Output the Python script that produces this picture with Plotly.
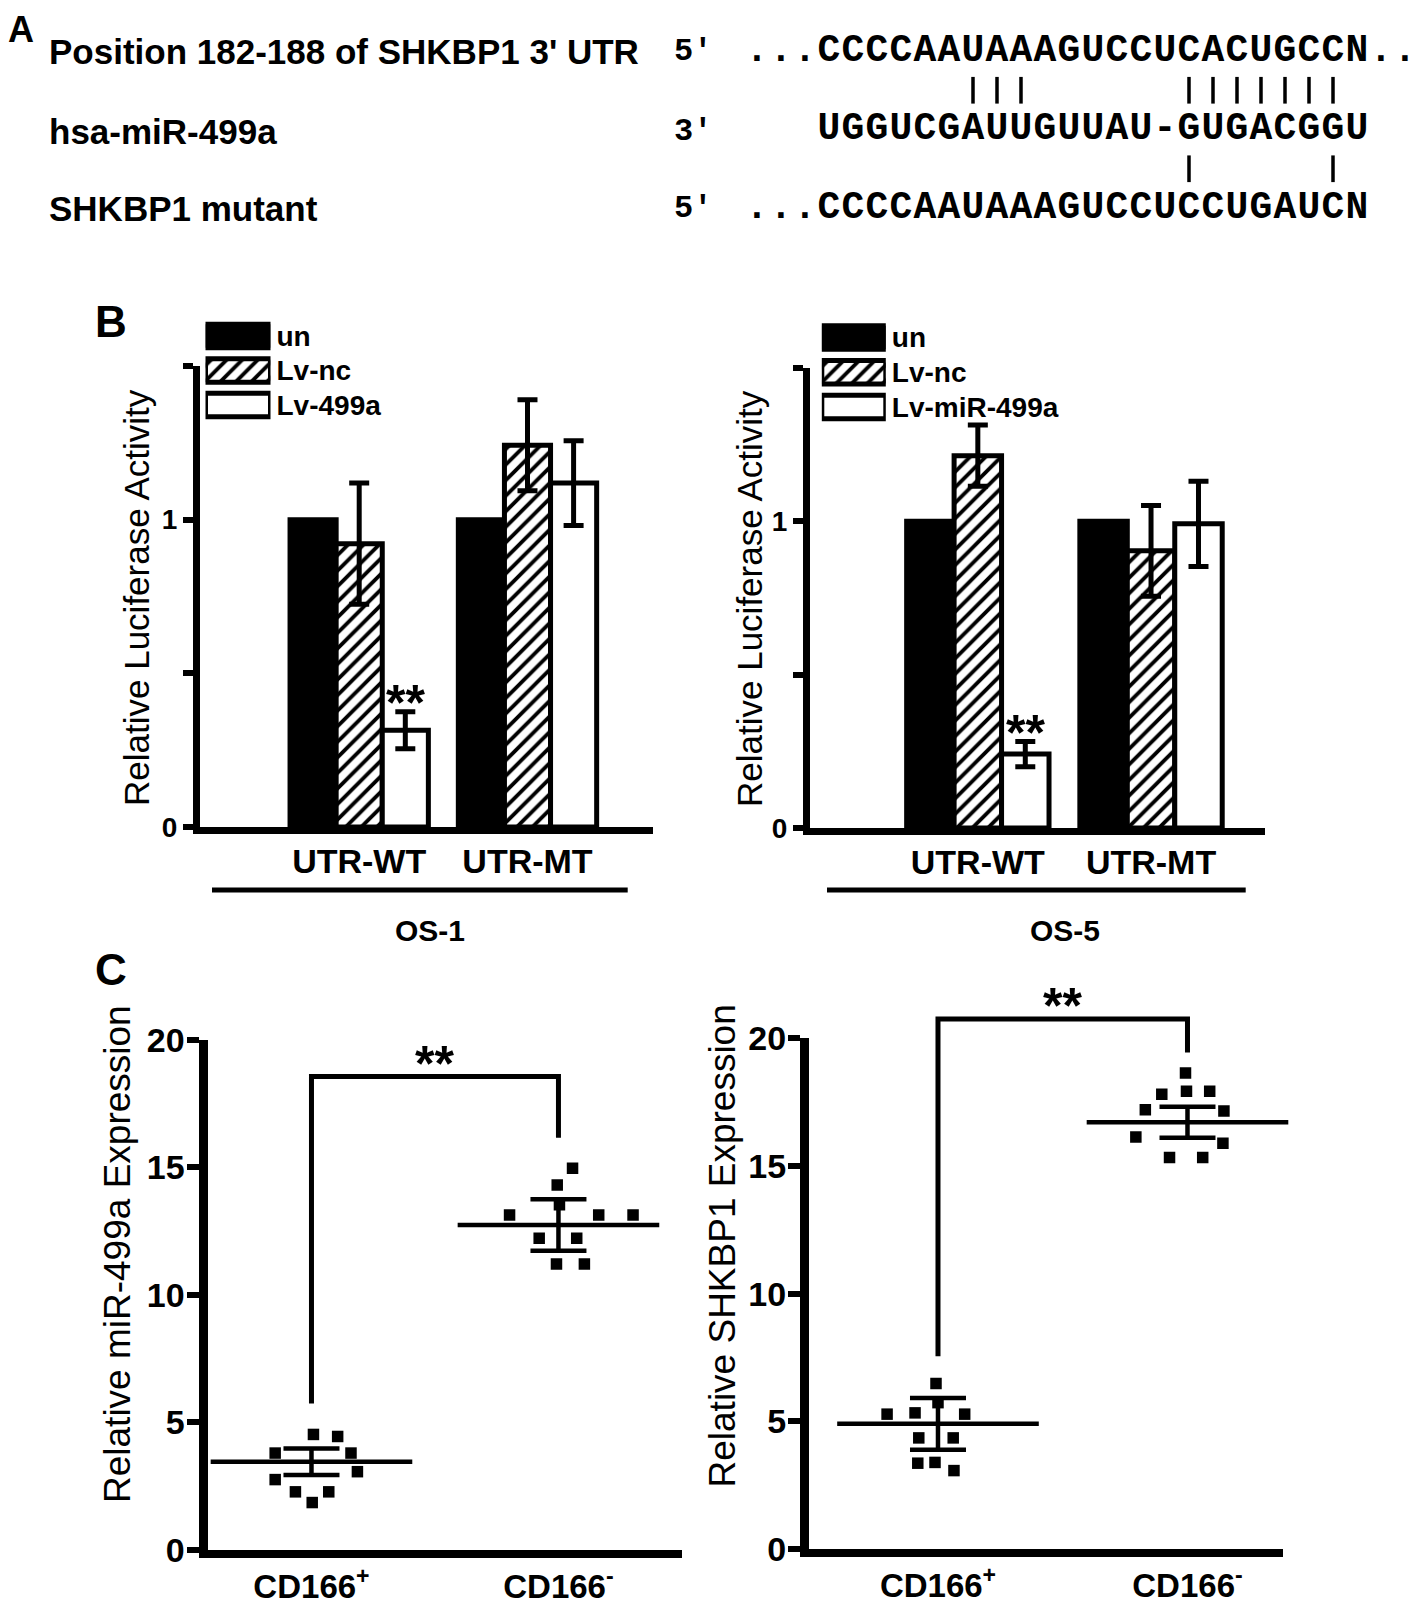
import plotly.graph_objects as go

W, H = 1418, 1605
OFF = 8  # page body margin (screen px) that the figure is offset by

# ---------------- Panel A data ----------------
seq_labels = ["Position 182-188 of SHKBP1 3' UTR", "hsa-miR-499a", "SHKBP1 mutant"]
seq_ends = ["5'", "3'", "5'"]
seq_wt = "...CCCCAAUAAAGUCCUCACUGCCN.."
seq_mir = "UGGUCGAUUGUUAU-GUGACGGU"
seq_mut = "...CCCCAAUAAAGUCCUCCUGAUCN"
seq_start = [-3, 0, -3]                 # alignment offset of first character
pairs_wt_mir = [6, 7, 8, 15, 16, 17, 18, 19, 20, 21]
pairs_mir_mut = [15, 21]

# ---------------- Panel B data ----------------
b_groups = ["UTR-WT", "UTR-MT"]
b_names_os1 = ["un", "Lv-nc", "Lv-499a"]
b_names_os5 = ["un", "Lv-nc", "Lv-miR-499a"]
os1_un = [1.0, 1.0]
os1_nc = [0.922, 1.242]
os1_nc_err = [0.197, 0.148]
os1_mir = [0.315, 1.119]
os1_mir_err = [0.060, 0.138]
os5_un = [1.0, 1.0]
os5_nc = [1.214, 0.904]
os5_nc_err = [0.100, 0.148]
os5_mir = [0.241, 0.992]
os5_mir_err = [0.041, 0.139]
b_cells = ["OS-1", "OS-5"]
b_major_ticks = [0, 1]
b_minor_ticks = [0.5, 1.5]

# ---------------- Panel C data ----------------
c_groups = ["CD166<sup>+</sup>", "CD166<sup>-</sup>"]
mir_pos = [4.53, 4.45, 3.80, 3.80, 3.07, 2.76, 2.28, 2.28, 1.86]
mir_pos_jit = [0.008, 0.106, -0.147, 0.160, 0.186, -0.147, -0.065, 0.070, 0.003]
mir_neg = [14.96, 14.31, 13.53, 13.13, 13.13, 13.13, 12.22, 12.22, 11.21, 11.21]
mir_neg_jit = [0.057, -0.005, 0.004, -0.198, 0.163, 0.302, -0.078, 0.074, -0.008, 0.105]
mir_mean = [3.46, 12.74]
mir_sem = [0.52, 1.01]
mir_bracket = [5.74, 18.56, 16.16]
shk_pos = [6.48, 5.73, 5.28, 5.33, 5.28, 4.35, 4.35, 3.36, 3.39, 3.07]
shk_pos_jit = [-0.008, 0.0, -0.204, -0.092, 0.107, -0.077, 0.061, -0.081, -0.012, 0.064]
shk_neg = [18.64, 17.81, 17.92, 17.92, 17.20, 17.15, 16.13, 15.89, 15.33, 15.33]
shk_neg_jit = [-0.008, -0.103, -0.004, 0.089, -0.169, 0.146, -0.207, 0.142, -0.072, 0.061]
shk_mean = [4.90, 16.71]
shk_sem = [1.01, 0.61]
shk_bracket = [7.55, 20.75, 19.44]
c_ytickvals = [0, 5, 10, 15, 20]
c_titles = ["Relative miR-499a Expression", "Relative SHKBP1 Expression"]

# ---------------- helpers ----------------
FONT = "Liberation Sans, Arial, sans-serif"
MONO = "Liberation Mono, Courier New, monospace"


def px(x):
    return (x - OFF) / W


def py(y):
    return 1 - (y - OFF) / H


fig = go.Figure()

# ================= Panel A =================
for s, st, ry in zip([seq_wt, seq_mir, seq_mut], seq_start, [0, 2, 4]):
    fig.add_trace(go.Scatter(
        x=[st + k for k in range(len(s))], y=[ry] * len(s), text=list(s),
        mode="text", textposition="middle center",
        textfont=dict(family=MONO, size=38, color="black", weight="bold"),
        xaxis="x", yaxis="y", hoverinfo="skip", showlegend=False, cliponaxis=False))

for idx, r in [(pairs_wt_mir, 1), (pairs_mir_mut, 3)]:
    xs, ys = [], []
    for i in idx:
        xs += [i, i, None]
        ys += [r - 0.34, r + 0.34, None]
    fig.add_trace(go.Scatter(x=xs, y=ys, mode="lines", line=dict(color="black", width=3.5),
                             xaxis="x", yaxis="y", hoverinfo="skip", showlegend=False))

# ================= Panel B =================
solid = dict(color="black", line=dict(color="black", width=5))
hatch = dict(color="white", line=dict(color="black", width=5),
             pattern=dict(shape="/", fgcolor="black", bgcolor="white", size=11, solidity=0.35))
empty = dict(color="white", line=dict(color="black", width=5))
styles = [solid, hatch, empty]


def add_bars(xa, ya, un, nc, nc_err, mir, mir_err):
    common = dict(x=b_groups, xaxis=xa, yaxis=ya, showlegend=False, hoverinfo="skip")
    fig.add_trace(go.Bar(y=un, offsetgroup="a", marker=solid, **common))
    fig.add_trace(go.Bar(y=nc, offsetgroup="b", marker=hatch,
                         error_y=dict(type="data", array=nc_err, color="black", thickness=5, width=10),
                         **common))
    fig.add_trace(go.Bar(y=mir, offsetgroup="c", marker=empty,
                         error_y=dict(type="data", array=mir_err, color="black", thickness=5, width=10),
                         **common))


add_bars("x2", "y2", os1_un, os1_nc, os1_nc_err, os1_mir, os1_mir_err)
add_bars("x3", "y3", os5_un, os5_nc, os5_nc_err, os5_mir, os5_mir_err)


def add_legend(xa, ya, names):
    for n, st in zip(names, styles):
        fig.add_trace(go.Bar(x=[1], y=[n], orientation="h", width=0.68, offsetgroup="leg",
                             marker=st, xaxis=xa, yaxis=ya, showlegend=False, hoverinfo="skip"))


add_legend("x4", "y4", b_names_os1)
add_legend("x5", "y5", b_names_os5)

# ================= Panel C =================


def add_scatter(xa, ya, xb, yb, pos, pos_j, neg, neg_j, mean, sem, br):
    mk = dict(symbol="square", size=11.5, color="black")
    fig.add_trace(go.Scatter(x=[0 + j for j in pos_j], y=pos, mode="markers", marker=mk,
                             xaxis=xa, yaxis=ya, showlegend=False, hoverinfo="skip"))
    fig.add_trace(go.Scatter(x=[1 + j for j in neg_j], y=neg, mode="markers", marker=mk,
                             xaxis=xa, yaxis=ya, showlegend=False, hoverinfo="skip"))
    fig.add_trace(go.Scatter(x=[0, 1], y=mean, mode="markers",
                             marker=dict(symbol="line-ew", size=144, color="black",
                                         line=dict(width=4.5, color="black")),
                             error_y=dict(type="data", array=sem, color="black", thickness=4.5, width=28),
                             xaxis=xa, yaxis=ya, showlegend=False, hoverinfo="skip", cliponaxis=False))
    # significance bracket on a taller overlay scale (same units as the data axis)
    fig.add_trace(go.Scatter(x=[0, 0, 1, 1], y=[br[0], br[1], br[1], br[2]], mode="lines",
                             line=dict(color="black", width=5),
                             xaxis=xb, yaxis=yb, showlegend=False, hoverinfo="skip"))


add_scatter("x6", "y6", "x8", "y8", mir_pos, mir_pos_jit, mir_neg, mir_neg_jit, mir_mean, mir_sem, mir_bracket)
add_scatter("x7", "y7", "x9", "y9", shk_pos, shk_pos_jit, shk_neg, shk_neg_jit, shk_mean, shk_sem, shk_bracket)

# ================= Axes =================
hidden = dict(visible=False, showgrid=False, zeroline=False, automargin=False)

# Panel A helper axes: character index -> screen pixel
CH = 24.0   # px per character
C0 = 829.0  # px centre of first aligned nucleotide
r0 = (700 - C0) / CH
r1 = (W + OFF - C0) / CH
ROW0, ROWH = 51.0, 39.25
yr_top = (18 - ROW0) / ROWH
yr_bot = (240 - ROW0) / ROWH

b_x = dict(type="category", showgrid=False, zeroline=False, showline=True, linewidth=7, linecolor="black",
           ticks="", tickfont=dict(family=FONT, size=34, color="black", weight="bold"),
           ticklabelstandoff=-2, automargin=False)
b_y = dict(range=[0, 1.5], tickvals=b_major_ticks, showgrid=False, zeroline=False,
           showline=True, linewidth=7, linecolor="black", ticks="outside", ticklen=10, tickwidth=6,
           tickcolor="black", tickfont=dict(family=FONT, size=28, color="black", weight="bold"),
           minor=dict(tickvals=b_minor_ticks, ticks="outside", ticklen=10, tickwidth=6, tickcolor="black",
                      showgrid=False),
           ticklabelstandoff=0, automargin=False)
leg_x = dict(range=[0, 1], visible=False, showgrid=False, zeroline=False, automargin=False)
leg_y = dict(type="category", showgrid=False, zeroline=False, showline=False, ticks="", side="right",
             tickfont=dict(family=FONT, size=28, color="black", weight="bold"), ticklabelstandoff=5,
             automargin=False)
c_x = dict(tickvals=[0, 1], ticktext=c_groups, showgrid=False, zeroline=False, showline=True,
           linewidth=8, linecolor="black", ticks="",
           tickfont=dict(family=FONT, size=33, color="black", weight="bold"), ticklabelstandoff=0,
           automargin=False)
c_y = dict(range=[0, 20], tickvals=c_ytickvals, showgrid=False, zeroline=False, showline=True,
           linewidth=9, linecolor="black", ticks="outside", ticklen=12, tickwidth=6, tickcolor="black",
           tickfont=dict(family=FONT, size=34, color="black", weight="bold"), ticklabelstandoff=-5,
           automargin=False)

# C scales: (zero px, twenty px, left px, right px, range)
cL = dict(z=1550.0, t=1039.8, x0=207.5, x1=681.7, rng=[-0.421, 1.499])
cR = dict(z=1549.0, t=1038.2, x0=809.0, x1=1283.3, rng=[-0.517, 1.384])
TOPC = 960.0


def over_top(c):
    unit = (c["z"] - c["t"]) / 20.0
    return (c["z"] - TOPC) / unit


fig.update_layout(
    template="none",
    width=W, height=H, margin=dict(l=0, r=0, t=0, b=0, pad=0, autoexpand=False),
    paper_bgcolor="white", plot_bgcolor="rgba(0,0,0,0)",
    font=dict(family=FONT, color="black"),
    barmode="group", bargap=0.178, bargroupgap=0,
    showlegend=False,
    xaxis=dict(hidden, domain=[px(700), 1], range=[r0, r1], anchor="y"),
    yaxis=dict(hidden, domain=[py(240), py(18)], range=[yr_bot, yr_top], anchor="x"),
    xaxis2=dict(b_x, domain=[px(200), px(652.7)], range=[-0.946, 1.744], anchor="y2"),
    yaxis2=dict(b_y, domain=[py(827), py(366)], anchor="x2"),
    xaxis3=dict(b_x, domain=[px(810), px(1265)], range=[-0.969, 1.658], anchor="y3"),
    yaxis3=dict(b_y, domain=[py(828), py(368)], anchor="x3"),
    xaxis4=dict(leg_x, domain=[px(205.5), px(270.5)], anchor="y4"),
    yaxis4=dict(leg_y, domain=[py(422.25), py(318.75)], range=[2.5, -0.5],
                categoryorder="array", categoryarray=b_names_os1, anchor="x4"),
    xaxis5=dict(leg_x, domain=[px(821.8), px(885.8)], anchor="y5"),
    yaxis5=dict(leg_y, domain=[py(424.4), py(320.1)], range=[2.5, -0.5],
                categoryorder="array", categoryarray=b_names_os5, anchor="x5"),
    xaxis6=dict(c_x, domain=[px(cL["x0"]), px(cL["x1"])], range=cL["rng"], anchor="y6"),
    yaxis6=dict(c_y, domain=[py(cL["z"]), py(cL["t"])], anchor="x6"),
    xaxis7=dict(c_x, domain=[px(cR["x0"]), px(cR["x1"])], range=cR["rng"], anchor="y7"),
    yaxis7=dict(c_y, domain=[py(cR["z"]), py(cR["t"])], anchor="x7"),
    xaxis8=dict(hidden, domain=[px(cL["x0"]), px(cL["x1"])], range=cL["rng"], anchor="y8"),
    yaxis8=dict(hidden, domain=[py(cL["z"]), py(TOPC)], range=[0, over_top(cL)], anchor="x8"),
    xaxis9=dict(hidden, domain=[px(cR["x0"]), px(cR["x1"])], range=cR["rng"], anchor="y9"),
    yaxis9=dict(hidden, domain=[py(cR["z"]), py(TOPC)], range=[0, over_top(cR)], anchor="x9"),
)

# ================= Annotations =================
ann = []


def text(x, y, s, size, bold=False, family=FONT, xanchor="center", angle=0):
    ann.append(dict(x=px(x), y=py(y), xref="paper", yref="paper", text=s, showarrow=False,
                    xanchor=xanchor, yanchor="middle", textangle=angle,
                    font=dict(family=family, size=size, color="black",
                              weight="bold" if bold else "normal")))


# panel letters
text(21, 30, "A", 36, bold=True)
text(111, 322, "B", 44, bold=True)
text(111, 969, "C", 44, bold=True)

# panel A row labels
for lab, end, yy in zip(seq_labels, seq_ends, [51, 131, 208]):
    text(47, yy, lab, 35, bold=True, xanchor="left")
    text(672, yy, end, 32, bold=True, family=MONO, xanchor="left")

# panel B titles and cell-line labels
text(136, 598, "Relative Luciferase Activity", 35, angle=-90)
text(749, 599, "Relative Luciferase Activity", 35, angle=-90)
text(430, 930, b_cells[0], 30, bold=True)
text(1065, 930, b_cells[1], 30, bold=True)

# panel C titles
text(117, 1254, c_titles[0], 37, angle=-90)
text(721.5, 1246, c_titles[1], 37, angle=-90)

# significance stars panel B (above Lv-miR bar of UTR-WT)
for xa, ya, v, e in [("x2", "y2", os1_mir[0], os1_mir_err[0]), ("x3", "y3", os5_mir[0], os5_mir_err[0])]:
    ann.append(dict(x=0.274, y=v + e, xref=xa, yref=ya, text="**", showarrow=False,
                    yanchor="middle", yshift=9,
                    font=dict(family=FONT, size=50, color="black", weight="bold")))

# significance stars panel C
for xa, ya, br in [("x8", "y8", mir_bracket), ("x9", "y9", shk_bracket)]:
    ann.append(dict(x=0.5, y=br[1], xref=xa, yref=ya, text="**", showarrow=False,
                    yanchor="middle", yshift=13,
                    font=dict(family=FONT, size=50, color="black", weight="bold")))

fig.update_layout(annotations=ann)

# group underline for cell lines
shapes = []
for x0, x1 in [(212, 627.7), (827, 1245.7)]:
    shapes.append(dict(type="line", xref="paper", yref="paper", x0=px(x0), x1=px(x1),
                       y0=py(890), y1=py(890), line=dict(color="black", width=5)))
fig.update_layout(shapes=shapes)

fig.write_html("out.html")
